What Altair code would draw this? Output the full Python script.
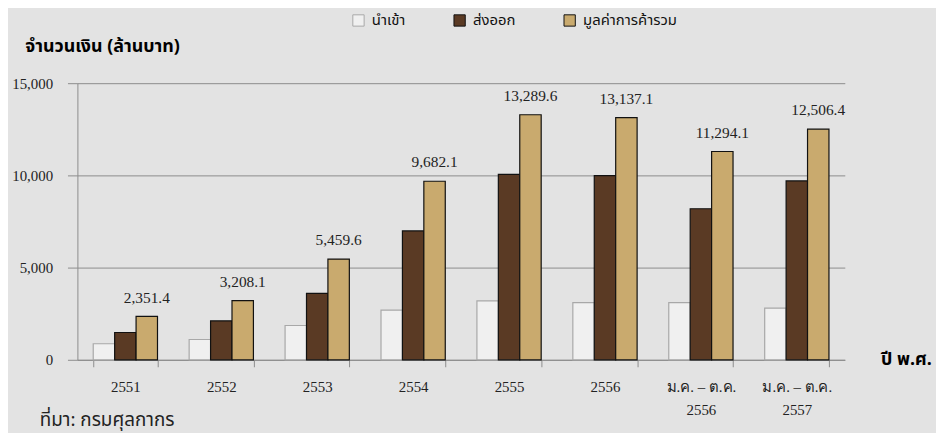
import altair as alt
import pandas as pd

categories = ["2551", "2552", "2553", "2554", "2555", "2556",
              "ม.ค. – ต.ค.|2556", "ม.ค. – ต.ค.|2557"]
series = ["นำเข้า", "ส่งออก", "มูลค่าการค้ารวม"]
imports = [870, 1100, 1860, 2690, 3200, 3100, 3100, 2800]
exports = [1480, 2110, 3600, 6990, 10050, 9990, 8190, 9700]
totals = [2351.4, 3208.1, 5459.6, 9682.1, 13289.6, 13137.1, 11294.1, 12506.4]
source_text = "ที่มา: กรมศุลกากร"

rows = []
for i, c in enumerate(categories):
    rows.append({"cat": c, "series": series[0], "value": imports[i]})
    rows.append({"cat": c, "series": series[1], "value": exports[i]})
    rows.append({"cat": c, "series": series[2], "value": totals[i]})
df = pd.DataFrame(rows)

SERIF = "Liberation Serif, DejaVu Serif, serif"
THAI = "Tahoma, Noto Sans Thai, Noto Sans, DejaVu Sans, sans-serif"
GRID = "#8c8c8c"

x_enc = alt.X(
    "cat:N", sort=categories,
    scale=alt.Scale(paddingInner=0.33, paddingOuter=0.165),
    axis=alt.Axis(
        title="ปี พ.ศ.", titleFont=THAI, titleFontSize=18, titleFontWeight="bold",
        titleColor="#000", titleAngle=0, titleAlign="left", titleBaseline="middle",
        titleX=810, titleY=0,
        labelExpr="split(datum.label, '|')", labelAngle=0,
        labelFont=SERIF, labelFontSize=15, labelColor="#222", labelPadding=13,
        labelLineHeight=23, labelBaseline="top",
        tickBand="extent", tickSize=7, tickColor=GRID, domainColor=GRID,
        grid=False,
    ),
)
xoff = alt.XOffset("series:N", sort=series, scale=alt.Scale(domain=series))
y_enc = alt.Y(
    "value:Q",
    scale=alt.Scale(domain=[0, 15000], nice=False),
    axis=alt.Axis(
        title="จำนวนเงิน (ล้านบาท)", titleFont=THAI, titleFontSize=18,
        titleFontWeight="bold", titleColor="#000", titleAngle=0,
        titleAlign="left", titleBaseline="middle", titleX=-53, titleY=-37,
        values=[0, 5000, 10000, 15000], format=",d",
        labelFont=SERIF, labelFontSize=15, labelColor="#222", labelPadding=15,
        tickSize=10, tickColor=GRID, domainColor=GRID,
        grid=True, gridColor=GRID, gridWidth=1,
    ),
)

bars = alt.Chart(df).mark_bar(strokeWidth=1.2).encode(
    x=x_enc,
    xOffset=xoff,
    y=y_enc,
    fill=alt.Fill(
        "series:N", sort=series,
        scale=alt.Scale(domain=series, range=["#f0f0f0", "#5a3a24", "#c9aa6e"]),
        legend=alt.Legend(
            title=None, orient="none", direction="horizontal",
            legendX=276, legendY=-71, symbolType="square", symbolSize=130,
            symbolStrokeColor="#555", symbolStrokeWidth=1,
            labelFont=THAI, labelFontSize=15, labelColor="#111",
            columnPadding=46, labelOffset=6,
        ),
    ),
    stroke=alt.Stroke(
        "series:N", sort=series,
        scale=alt.Scale(domain=series, range=["#a8a8a8", "#111111", "#111111"]),
        legend=None,
    ),
)

labels = alt.Chart(df).transform_filter(
    alt.datum.series == series[2]
).mark_text(
    baseline="bottom", dy=-11, font=SERIF, fontSize=15.5, color="#222"
).encode(
    x=alt.X("cat:N", sort=categories),
    xOffset=xoff,
    y=alt.Y("value:Q"),
    text=alt.Text("value:Q", format=",.1f"),
)

source = alt.Chart(pd.DataFrame({"t": [source_text]})).mark_text(
    align="left", baseline="alphabetic", font=THAI, fontSize=19, color="#222"
).encode(
    x=alt.value(-38), y=alt.value(346), text="t:N"
)

chart = alt.layer(bars, labels, source).properties(
    width=774, height=279,
    background="#e3e3e3",
    padding={"left": 70, "top": 74, "right": 92, "bottom": 72},
    autosize=alt.AutoSizeParams(type="none"),
).configure_view(stroke=None)

chart.save("out.html", embed_options={"renderer": "svg", "actions": False})
